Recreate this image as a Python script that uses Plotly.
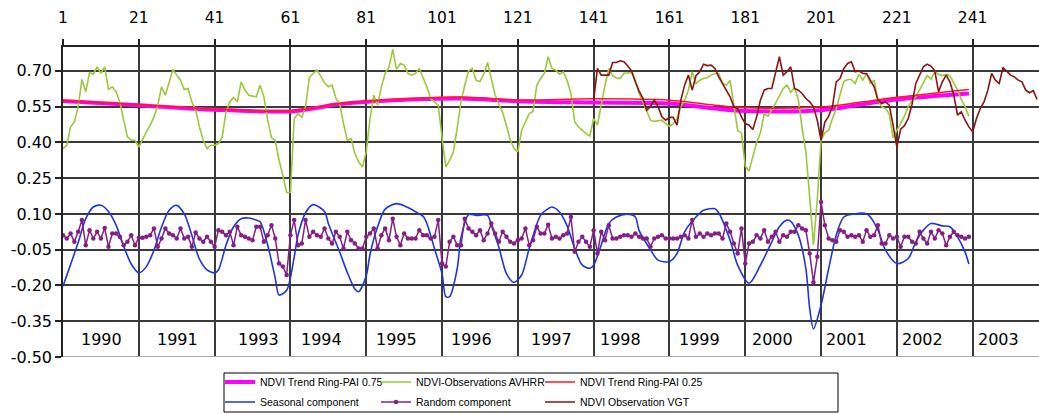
import plotly.graph_objects as go

# ---- data -------------------------------------------------------------
months = list(range(1, 241))

ndvi_avhrr = [
    0.374, 0.388, 0.465, 0.486, 0.550, 0.664, 0.612, 0.693, 0.686, 0.717,
    0.689, 0.717, 0.622, 0.633, 0.612, 0.570, 0.493, 0.423, 0.409, 0.409,
    0.381, 0.416, 0.444, 0.472, 0.507, 0.556, 0.633, 0.598, 0.654, 0.706,
    0.682, 0.661, 0.622, 0.626, 0.570, 0.535, 0.465, 0.409, 0.374, 0.388,
    0.388, 0.395, 0.423, 0.528, 0.570, 0.588, 0.570, 0.654, 0.619, 0.598,
    0.594, 0.591, 0.640, 0.591, 0.493, 0.420, 0.409, 0.325, 0.262, 0.190,
    0.190, 0.500, 0.520, 0.505, 0.550, 0.672, 0.689, 0.703, 0.678, 0.650,
    0.633, 0.640, 0.584, 0.563, 0.479, 0.409, 0.416, 0.353, 0.318, 0.297,
    0.360, 0.500, 0.598, 0.556, 0.633, 0.690, 0.715, 0.790, 0.706, 0.731,
    0.724, 0.689, 0.682, 0.689, 0.710, 0.675, 0.633, 0.584, 0.570, 0.556,
    0.420, 0.297, 0.325, 0.360, 0.460, 0.570, 0.640, 0.700, 0.710, 0.660,
    0.655, 0.685, 0.735, 0.665, 0.600, 0.560, 0.525, 0.470, 0.410, 0.375,
    0.360, 0.450, 0.486, 0.521, 0.530, 0.640, 0.668, 0.689, 0.759, 0.710,
    0.703, 0.686, 0.696, 0.660, 0.605, 0.486, 0.465, 0.450, 0.437, 0.427,
    0.500, 0.472, 0.563, 0.640, 0.710, 0.680, 0.670, 0.668, 0.690, 0.693,
    0.693, 0.654, 0.605, 0.570, 0.535, 0.493, 0.488, 0.490, 0.493, 0.479,
    0.468, 0.479, 0.500, 0.550, 0.575, 0.620, 0.696, 0.647, 0.661, 0.668,
    0.672, 0.682, 0.689, 0.689, 0.647, 0.640, 0.660, 0.555, 0.450, 0.440,
    0.300, 0.280, 0.340, 0.400, 0.440, 0.520, 0.510, 0.535, 0.565, 0.595,
    0.625, 0.640, 0.610, 0.630, 0.580, 0.460, 0.360, 0.170, -0.030, 0.160,
    0.410, 0.440, 0.451, 0.500, 0.540, 0.600, 0.655, 0.664, 0.664, 0.647,
    0.685, 0.661, 0.689, 0.647, 0.661, 0.577, 0.549, 0.542, 0.520, 0.420,
    0.450, 0.475, 0.510, 0.550, 0.577, 0.590, 0.619, 0.650, 0.680, 0.665,
    0.696, 0.685, 0.680, 0.685, 0.680, 0.650, 0.620, 0.580, 0.550, 0.510,
]

vgt_months = list(range(141, 259))
ndvi_vgt = [
    0.577, 0.710, 0.682, 0.682, 0.682, 0.735, 0.735, 0.742, 0.738, 0.720,
    0.700, 0.655, 0.615, 0.585, 0.535, 0.550, 0.577, 0.550, 0.507, 0.493,
    0.505, 0.505, 0.472, 0.577, 0.640, 0.682, 0.619, 0.680, 0.696, 0.728,
    0.722, 0.724, 0.710, 0.675, 0.647, 0.619, 0.591, 0.549, 0.542, 0.507,
    0.479, 0.472, 0.454, 0.507, 0.577, 0.619, 0.626, 0.626, 0.689, 0.759,
    0.682, 0.696, 0.717, 0.626, 0.619, 0.605, 0.584, 0.570, 0.549, 0.493,
    0.409, 0.485, 0.510, 0.549, 0.654, 0.668, 0.710, 0.731, 0.738, 0.696,
    0.700, 0.689, 0.689, 0.661, 0.633, 0.577, 0.563, 0.570, 0.556, 0.472,
    0.381, 0.455, 0.470, 0.500, 0.560, 0.647, 0.680, 0.717, 0.728, 0.720,
    0.700, 0.612, 0.654, 0.682, 0.654, 0.600, 0.514, 0.528, 0.493, 0.465,
    0.444, 0.500, 0.542, 0.570, 0.619, 0.689, 0.661, 0.647, 0.714, 0.696,
    0.682, 0.675, 0.661, 0.654, 0.619, 0.608, 0.617, 0.580,
]

trend_months = [1, 21, 41, 61, 67, 73, 81, 87, 106, 121, 141, 161, 173, 181,
                201, 212, 221, 240]
trend_pai_075 = [0.574, 0.556, 0.537, 0.530, 0.542, 0.559, 0.570, 0.576,
                 0.584, 0.573, 0.567, 0.563, 0.542, 0.532, 0.535, 0.560,
                 0.580, 0.605]
trend_pai_025 = [0.575, 0.558, 0.539, 0.532, 0.544, 0.561, 0.572, 0.579,
                 0.590, 0.578, 0.583, 0.577, 0.556, 0.545, 0.549, 0.570,
                 0.589, 0.622]

seasonal_months = [
    1, 5, 7, 9, 11, 13, 15, 17, 19, 21, 23, 25, 27, 29, 31, 33, 35, 37, 39,
    41, 42, 44, 46, 48, 50, 52, 53, 55, 57, 58, 60, 62, 63, 65, 67, 70, 71,
    74, 76, 78, 79, 81, 82, 84, 86, 89, 92, 95, 96, 97, 99, 101, 102, 103,
    105, 106, 108, 110, 113, 114, 116, 118, 120, 122, 124, 127, 129, 130,
    132, 134, 136, 138, 140, 141, 143, 145, 147, 150, 152, 153, 156, 158,
    161, 163, 165, 168, 170, 173, 174, 177, 179, 182, 185, 188, 190, 192,
    193, 195, 197, 198, 199, 201, 203, 205, 207, 210, 213, 214, 216, 218,
    221, 224, 226, 228, 230, 233, 235, 237, 239, 240,
]
seasonal = [
    -0.203, -0.020, 0.080, 0.129, 0.136, 0.110, 0.053, -0.035, -0.110,
    -0.147, -0.121, -0.052, 0.045, 0.115, 0.136, 0.100, 0.010, -0.090,
    -0.135, -0.147, -0.135, -0.031, 0.046, 0.080, 0.083, 0.074, 0.067,
    -0.030, -0.170, -0.240, -0.220, -0.080, 0.011, 0.105, 0.139, 0.110,
    0.060, -0.060, -0.145, -0.215, -0.226, -0.160, -0.070, 0.046, 0.120,
    0.143, 0.127, 0.100, 0.090, 0.060, -0.045, -0.150, -0.247, -0.247,
    -0.130, 0.000, 0.097, 0.094, 0.094, 0.053, -0.040, -0.150, -0.187,
    -0.156, -0.045, 0.094, 0.122, 0.129, 0.108, 0.050, -0.045, -0.115,
    -0.128, -0.115, -0.030, 0.060, 0.087, 0.099, 0.087, 0.030, -0.050,
    -0.094, -0.100, -0.066, 0.025, 0.087, 0.115, 0.122, 0.105, -0.010,
    -0.115, -0.191, -0.115, -0.017, 0.046, 0.074, 0.069, 0.011, -0.130,
    -0.296, -0.382, -0.282, -0.130, 0.011, 0.087, 0.101, 0.101, 0.087,
    0.032, -0.052, -0.108, -0.087, -0.017, 0.032, 0.060, 0.050, 0.046,
    0.004, -0.060, -0.110,
]

random_comp = [
    0.011, -0.003, 0.018, -0.017, 0.025, 0.074, -0.031, 0.032, -0.003, 0.025,
    -0.003, 0.041, -0.038, 0.018, 0.018, 0.004, -0.031, -0.017, 0.011, -0.031,
    0.000, 0.000, 0.004, 0.011, 0.039, -0.038, -0.003, 0.039, 0.018, 0.011,
    -0.003, 0.039, -0.003, 0.004, -0.038, 0.022, -0.003, -0.017, 0.004, -0.017,
    -0.038, 0.032, 0.025, 0.011, 0.025, -0.031, 0.046, 0.011, 0.004, -0.003,
    -0.010, 0.046, 0.046, -0.017, 0.011, 0.053, -0.003, -0.108, -0.121, -0.156,
    0.011, 0.074, -0.031, -0.024, 0.074, 0.004, 0.025, 0.011, 0.004, 0.039,
    -0.003, -0.024, 0.025, 0.004, -0.045, 0.025, -0.010, -0.024, -0.045, -0.045,
    0.004, 0.018, 0.039, -0.045, 0.011, 0.039, -0.010, 0.080, 0.004, -0.031,
    0.018, -0.003, -0.003, -0.003, 0.032, 0.011, 0.011, -0.003, 0.004, 0.074,
    -0.108, -0.121, -0.017, 0.004, -0.031, -0.031, 0.080, 0.039, 0.025, 0.011,
    0.032, -0.010, 0.018, 0.060, 0.018, -0.017, 0.025, 0.004, -0.017, -0.024,
    -0.010, -0.003, 0.039, -0.031, -0.010, 0.046, 0.018, 0.018, 0.055, -0.003,
    0.004, -0.003, 0.011, 0.018, 0.087, -0.059, -0.017, 0.004, -0.017, -0.038,
    0.032, -0.066, 0.025, -0.010, 0.053, -0.003, -0.003, 0.004, 0.011, 0.011,
    0.004, 0.018, 0.004, -0.003, -0.003, -0.038, -0.003, 0.004, 0.011, -0.003,
    -0.003, -0.003, -0.003, 0.004, 0.011, -0.003, 0.074, 0.004, 0.018, 0.004,
    0.018, 0.011, 0.018, 0.018, -0.003, 0.060, 0.025, -0.024, -0.066, 0.039,
    -0.108, -0.024, -0.017, 0.011, -0.003, 0.032, -0.017, 0.004, 0.025, -0.017,
    0.011, 0.004, 0.025, 0.025, 0.053, 0.039, 0.032, -0.066, -0.187, -0.080,
    0.150, 0.053, -0.003, -0.010, -0.017, 0.032, 0.025, 0.004, 0.011, 0.004,
    0.011, -0.017, 0.032, 0.004, 0.011, 0.053, -0.024, -0.024, 0.011, -0.003,
    0.004, -0.038, 0.004, 0.004, -0.017, -0.024, 0.025, -0.003, -0.024, 0.025,
    -0.003, 0.032, 0.018, -0.031, 0.004, 0.025, 0.011, 0.004, -0.003, 0.004,
]

top_ticks = [1, 21, 41, 61, 81, 101, 121, 141, 161, 181, 201, 221, 241]
y_ticks = [0.70, 0.55, 0.40, 0.25, 0.10, -0.05, -0.20, -0.35, -0.50]
y_tick_labels = ["0.70", "0.55", "0.40", "0.25", "0.10", "-0.05", "-0.20",
                 "-0.35", "-0.50"]

year_labels = ["1990", "1991", "1993", "1994", "1995", "1996", "1997",
               "1998", "1999", "2000", "2001", "2002", "2003"]
year_label_months = [11.2, 31.3, 52.7, 69.1, 88.9, 108.9, 130.0, 148.0,
                     168.8, 188.1, 207.6, 227.7, 247.7]

# ---- figure -----------------------------------------------------------
FONT = "DejaVu Sans"
LEGEND_FONT = "Liberation Sans"
GRID = "#3a3a3a"

fig = go.Figure()

fig.add_trace(go.Scatter(
    x=trend_months, y=trend_pai_075, mode="lines", line_shape="spline",
    line=dict(color="#ff00ff", width=4),
    name="NDVI Trend Ring-PAI 0.75", legend="legend"))
fig.add_trace(go.Scatter(
    x=months, y=ndvi_avhrr, mode="lines",
    line=dict(color="#9dc83a", width=1.6),
    name="NDVI-Observations AVHRR", legend="legend2"))
fig.add_trace(go.Scatter(
    x=trend_months, y=trend_pai_025, mode="lines", line_shape="spline",
    line=dict(color="#ff1a1a", width=1.5),
    name="NDVI Trend Ring-PAI 0.25", legend="legend3"))
fig.add_trace(go.Scatter(
    x=seasonal_months, y=seasonal, mode="lines",
    line=dict(color="#1f35e0", width=1.6, shape="spline", smoothing=0.8),
    name="Seasonal component", legend="legend4"))
fig.add_trace(go.Scatter(
    x=months, y=random_comp, mode="lines+markers",
    line=dict(color="#841f86", width=1.5),
    marker=dict(color="#841f86", size=4.5),
    name="Random component", legend="legend5"))
fig.add_trace(go.Scatter(
    x=vgt_months, y=ndvi_vgt, mode="lines",
    line=dict(color="#8b1414", width=1.6),
    name="NDVI Observation VGT", legend="legend6"))

# plot area in pixels: x 63..1039, y 47..357
PX_L, PX_W, PX_B, PX_H = 63, 976, 357, 310


def px_x(p):
    return (p - PX_L) / PX_W


def px_y(p):
    return (PX_B - p) / PX_H


legend_cols = [220, 376, 540]
legend_rows = [382, 402]
legend_style = dict(bgcolor="rgba(0,0,0,0)", borderwidth=0,
                    font=dict(family=LEGEND_FONT, size=10.5, color="black"),
                    xanchor="left", yanchor="middle", orientation="v")
legends = {}
names = ["legend", "legend2", "legend3", "legend4", "legend5", "legend6"]
for k, nm in enumerate(names):
    r, c = divmod(k, 3)
    legends[nm] = dict(x=px_x(legend_cols[c]), y=px_y(legend_rows[r]),
                       **legend_style)

annotations = [
    dict(x=m, y=-0.425, xref="x", yref="y", text=t, showarrow=False,
         font=dict(family=FONT, size=16, color="black"))
    for t, m in zip(year_labels, year_label_months)
]

shapes = [
    # bottom border of the plot
    dict(type="line", xref="paper", yref="y", x0=0, x1=1, y0=-0.5, y1=-0.5,
         line=dict(color="#a8a8a8", width=2), layer="above"),
    # frame around the legend
    dict(type="rect", xref="paper", yref="paper",
         x0=px_x(224), x1=px_x(838), y0=px_y(412), y1=px_y(373),
         line=dict(color="black", width=1), fillcolor="rgba(0,0,0,0)"),
]

fig.update_layout(
    width=1039, height=414,
    margin=dict(l=63, r=0, t=47, b=57, autoexpand=False),
    paper_bgcolor="white", plot_bgcolor="white",
    font=dict(family=FONT, color="black"),
    showlegend=True,
    annotations=annotations,
    shapes=shapes,
    **legends,
)

fig.update_xaxes(
    range=[1, 258.5], side="top", tickvals=top_ticks,
    ticks="outside", ticklen=6, tickwidth=1.5, tickcolor="#222",
    ticklabelstandoff=10,
    tickfont=dict(family=FONT, size=15.5, color="black"),
    showgrid=True, gridcolor=GRID, gridwidth=1.5,
    showline=True, linecolor="#222", linewidth=1.5,
    zeroline=False, automargin=False,
)
fig.update_yaxes(
    range=[-0.5, 0.8], tickvals=y_ticks, ticktext=y_tick_labels,
    ticks="outside", ticklen=6, tickwidth=1.5, tickcolor="#222",
    tickfont=dict(family=FONT, size=16, color="black"),
    showgrid=True, gridcolor=GRID, gridwidth=1.5,
    showline=True, linecolor="#222", linewidth=1.5,
    zeroline=False, automargin=False,
)

fig.write_html("out.html")
